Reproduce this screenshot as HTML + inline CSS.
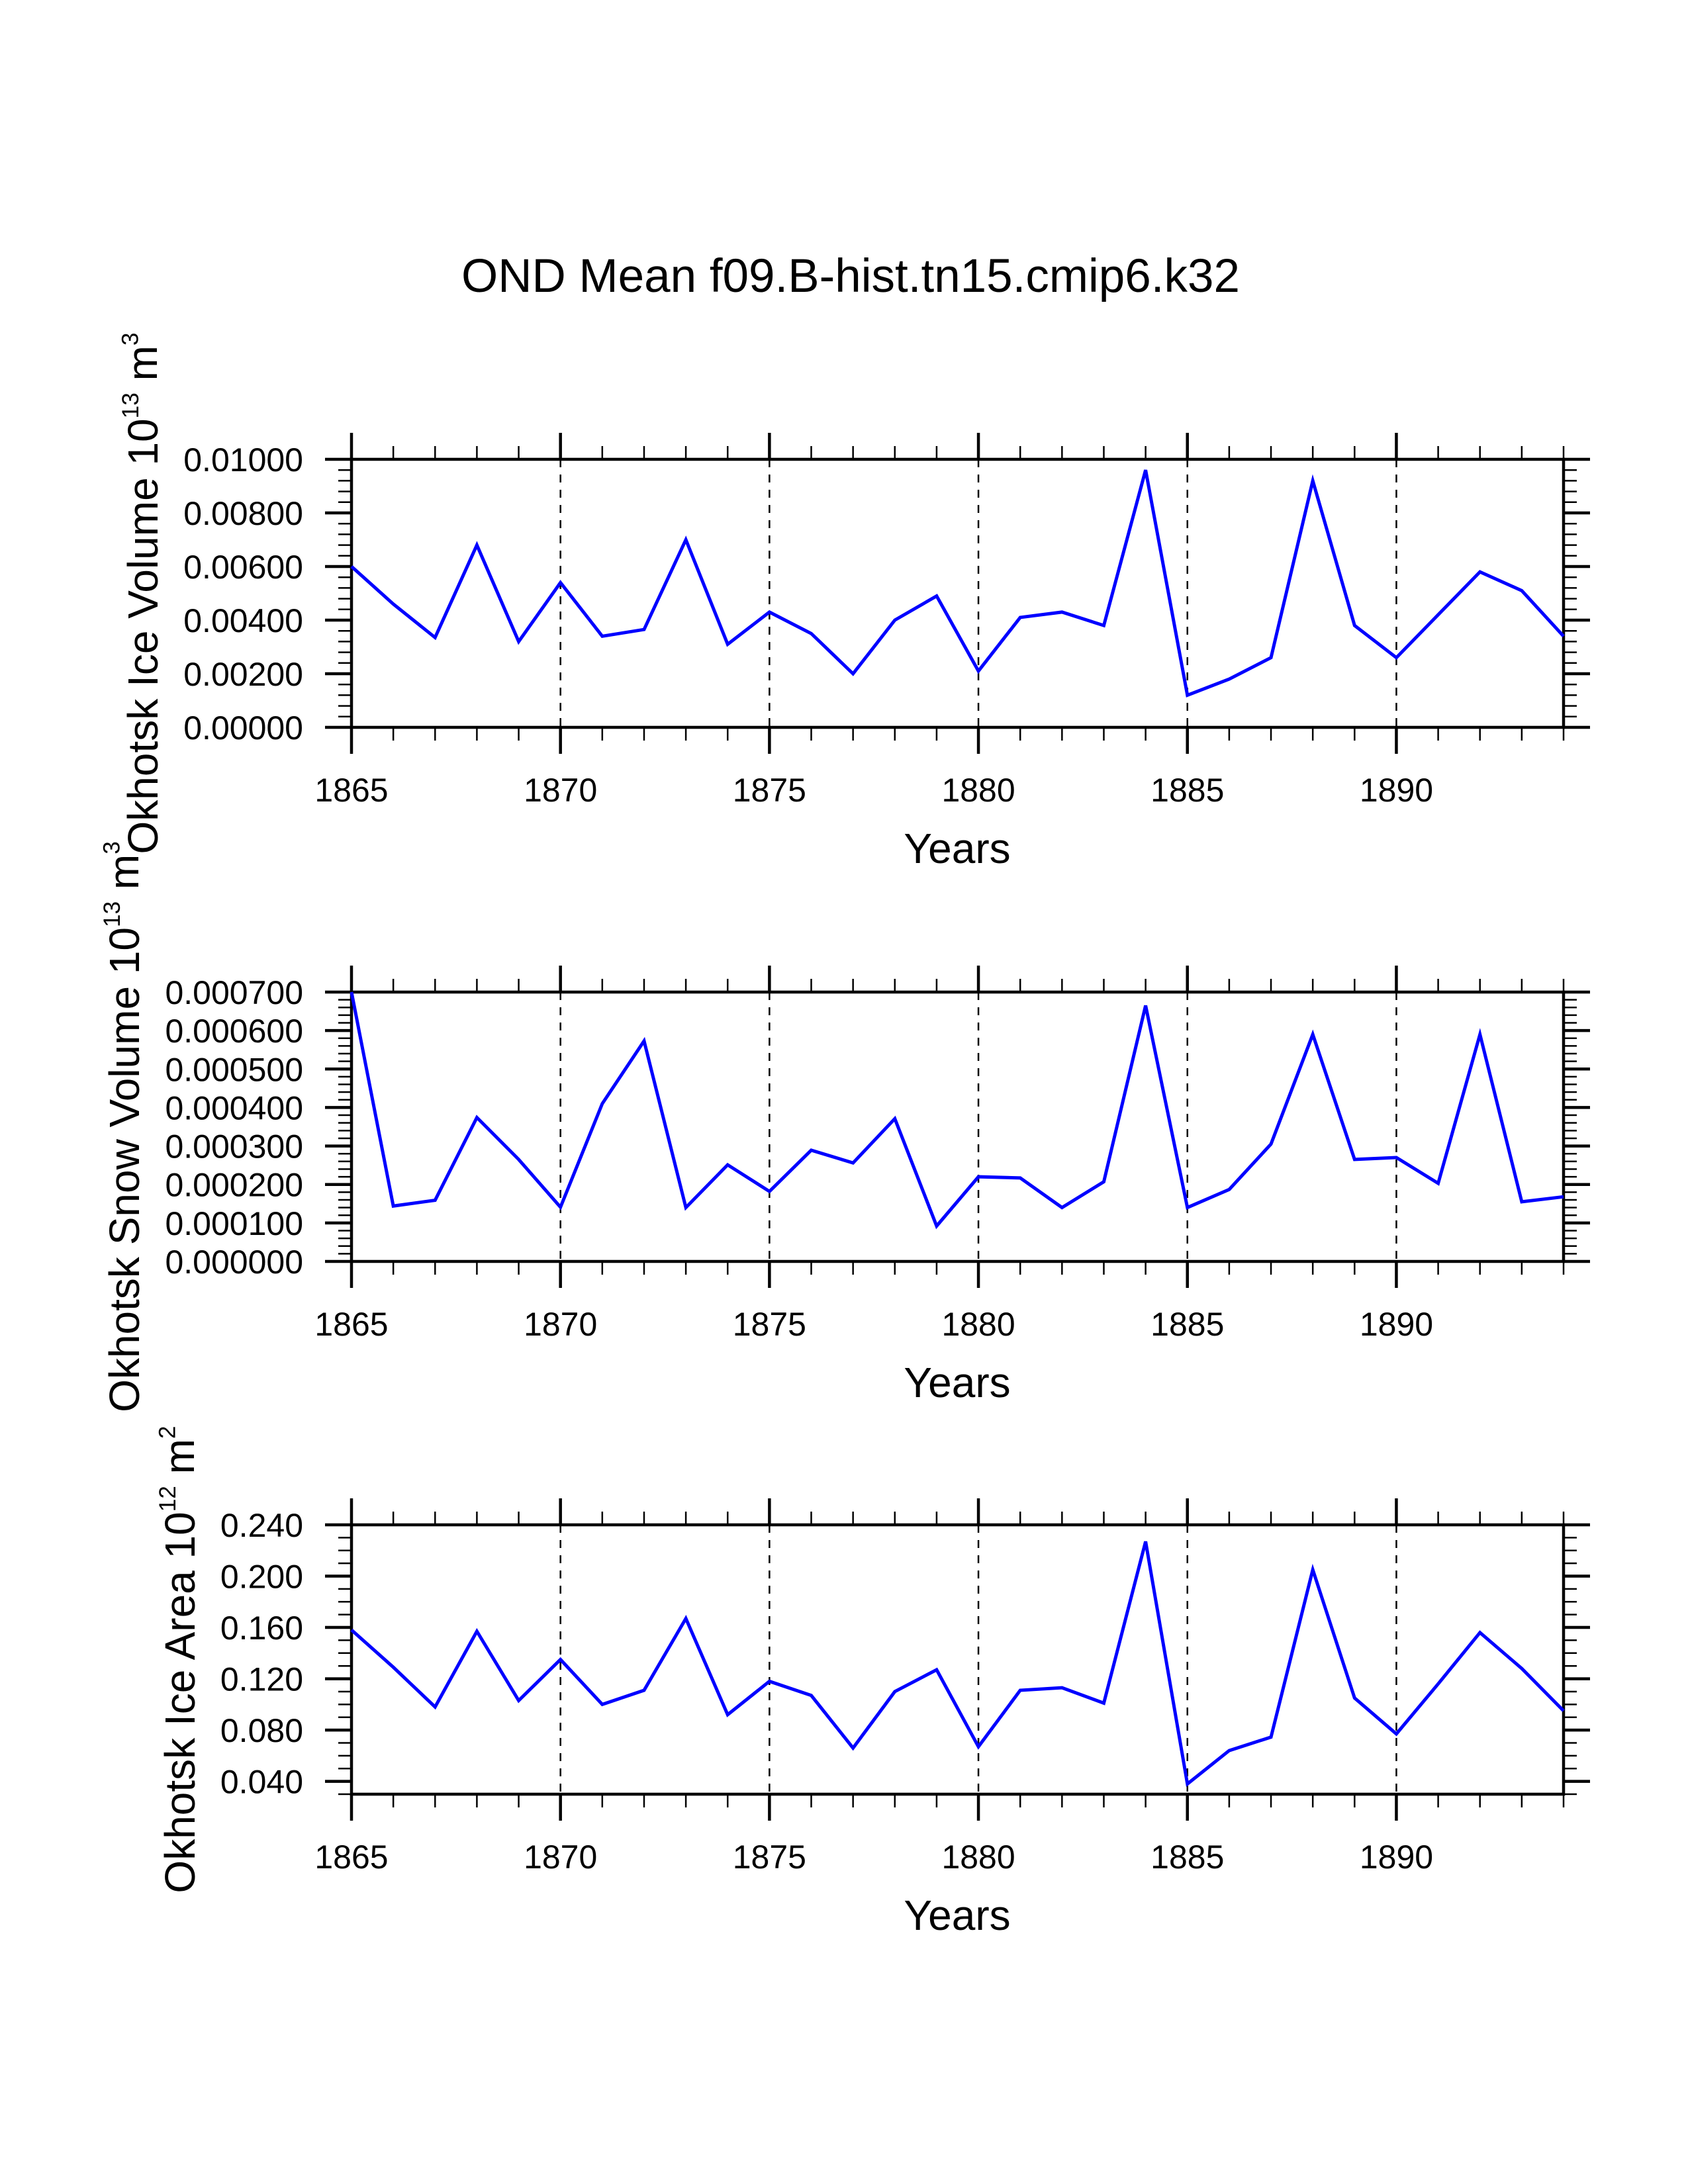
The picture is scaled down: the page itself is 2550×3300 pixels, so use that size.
<!DOCTYPE html>
<html><head><meta charset="utf-8"><style>
html,body{margin:0;padding:0;background:#fff}
svg{display:block}
text{font-family:"Liberation Sans",sans-serif;fill:#000}
</style></head><body>
<svg id="fig" width="2550" height="3300" viewBox="0 0 2550 3300" xmlns="http://www.w3.org/2000/svg">
<text x="1285" y="441" font-size="71" text-anchor="middle">OND Mean f09.B-hist.tn15.cmip6.k32</text>
</svg>
<script>
const years = [1865,1866,1867,1868,1869,1870,1871,1872,1873,1874,1875,1876,1877,1878,1879,1880,1881,1882,1883,1884,1885,1886,1887,1888,1889,1890,1891,1892,1893,1894];
const iceVolume = [0.0060,0.0046,0.00335,0.0068,0.0032,0.0054,0.0034,0.00365,0.0070,0.0031,0.0043,0.0035,0.0020,0.0040,0.0049,0.0021,0.0041,0.0043,0.0038,0.0096,0.0012,0.0018,0.0026,0.0092,0.0038,0.0026,0.0042,0.0058,0.0051,0.0034];
const snowVolume = [0.00070,0.000144,0.000159,0.000374,0.000265,0.000141,0.00041,0.000573,0.00014,0.000251,0.000182,0.000289,0.000256,0.000371,0.000092,0.00022,0.000217,0.00014,0.000207,0.000665,0.00014,0.000187,0.000305,0.00059,0.000265,0.00027,0.000203,0.00059,0.000155,0.000168];
const iceArea = [0.158,0.129,0.098,0.157,0.103,0.135,0.100,0.111,0.167,0.092,0.118,0.107,0.066,0.110,0.127,0.067,0.111,0.113,0.101,0.227,0.038,0.064,0.0745,0.205,0.105,0.077,0.116,0.156,0.128,0.095];
const xTickLabels = ["1865","1870","1875","1880","1885","1890"];
const iceVolTicks = ["0.00000","0.00200","0.00400","0.00600","0.00800","0.01000"];
const snowTicks = ["0.000000","0.000100","0.000200","0.000300","0.000400","0.000500","0.000600","0.000700"];
const areaTicks = ["0.040","0.080","0.120","0.160","0.200","0.240"];

const NS="http://www.w3.org/2000/svg";
const svg=document.getElementById('fig');
const X0=531, X1=2362, Y0=1865, Y1=1894;
function xs(v){return X0+(v-Y0)/(Y1-Y0)*(X1-X0);}
function mk(tag,attrs,parent){const e=document.createElementNS(NS,tag);for(const k in attrs)e.setAttribute(k,attrs[k]);(parent||svg).appendChild(e);return e;}

function panel(name,top,bot,ymin,ymax,majorStep,minorStep,tickLabels,majorStart,data,titleX,titleParts,titleSize){
  const g=mk('g',{});
  
  
  const ys=v=>bot-(v-ymin)/(ymax-ymin)*(bot-top);
  for(let yr=1870;yr<=1890;yr+=5){
    const l=mk('line',{x1:xs(yr),x2:xs(yr),y1:top,y2:bot,stroke:'#000','stroke-width':2.5,'stroke-dasharray':'12,11'},g);
    
    
  }
  for(let yr=Y0;yr<=Y1;yr++){
    const maj=(yr%5===0), len=maj?40:20;
    mk('line',{x1:xs(yr),x2:xs(yr),y1:bot,y2:bot+len,stroke:'#000','stroke-width':maj?4.5:2.5},g);
    mk('line',{x1:xs(yr),x2:xs(yr),y1:top,y2:top-len,stroke:'#000','stroke-width':maj?4.5:2.5},g);
  }
  xTickLabels.forEach(s=>{
    const t=mk('text',{x:xs(+s),y:bot+112,'font-size':50,'text-anchor':'middle'},g);
    t.textContent=s;
    
    
  });
  const nMinor=Math.round((ymax-ymin)/minorStep);
  for(let i=0;i<=nMinor;i++){
    const v=ymin+i*minorStep;
    const r=(v-majorStart)/majorStep;
    const maj=Math.abs(r-Math.round(r))<1e-6 && v>=majorStart-1e-12;
    const len=maj?40:20;
    mk('line',{x1:X0,x2:X0-len,y1:ys(v),y2:ys(v),stroke:'#000','stroke-width':maj?4.5:2.5},g);
    mk('line',{x1:X1,x2:X1+len,y1:ys(v),y2:ys(v),stroke:'#000','stroke-width':maj?4.5:2.5},g);
  }
  tickLabels.forEach(s=>{
    const t=mk('text',{x:X0-73,y:ys(+s)+18,'font-size':50,'text-anchor':'end'},g);
    t.textContent=s;
    
    
  });
  const f=mk('rect',{x:X0,y:top,width:X1-X0,height:bot-top,fill:'none',stroke:'#000','stroke-width':4.5},g);
  
  
  const pts=data.map((v,i)=>xs(years[i])+','+ys(v)).join(' ');
  const pl=mk('polyline',{points:pts,fill:'none',stroke:'#0000ff','stroke-width':5,'stroke-linejoin':'miter'},g);
  
  
  const xt=mk('text',{x:1446,y:bot+205,'font-size':64,'text-anchor':'middle'},g);
  xt.textContent='Years';
  
  
  const yc=(top+bot)/2;
  const yt=mk('text',{x:0,y:0,'font-size':titleSize,'text-anchor':'middle',transform:'translate('+titleX+','+yc+') rotate(-90)'},g);
  
  
  titleParts.forEach(p=>{
    const ts=mk('tspan',p[1]?{'font-size':titleSize*0.55,dy:-titleSize*0.45}:{dy:p[2]||0},yt);
    ts.textContent=p[0];
  });
}

panel('ice-volume',694,1099,0,0.01,0.002,0.0004,iceVolTicks,0,iceVolume,238,
  [['Okhotsk Ice Volume 10'],['13',true],[' m',false,28],['3',true]],64);
panel('snow-volume',1499,1906,0,0.0007,0.0001,0.00002,snowTicks,0,snowVolume,210,
  [['Okhotsk Snow Volume 10'],['13',true],[' m',false,28],['3',true]],64);
panel('ice-area',2304,2711,0.03,0.24,0.04,0.01,areaTicks,0.04,iceArea,294,
  [['Okhotsk Ice Area 10'],['12',true],[' m',false,28],['2',true]],64);
</script>
</body></html>
